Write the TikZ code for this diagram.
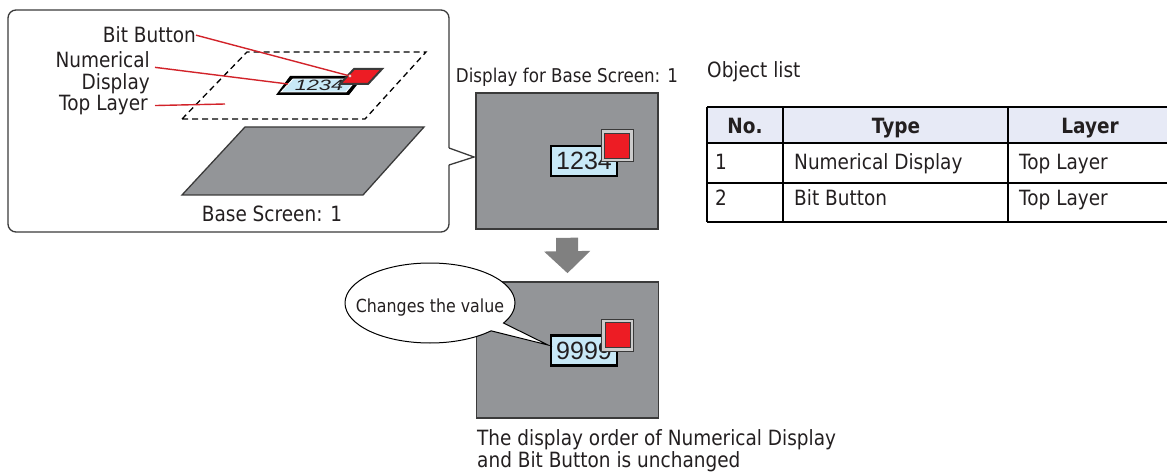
\documentclass[tikz,border=0pt]{standalone}
\usepackage{fontspec}
\setmainfont{DejaVu Sans}[FakeStretch=0.88]
\newfontfamily\digitfont{Liberation Sans}
\usetikzlibrary{arrows.meta,shapes.callouts}

\definecolor{ink}{HTML}{231F20}
\definecolor{screengray}{HTML}{939598}
\definecolor{edgegray}{HTML}{3A3A3A}
\definecolor{panelblue}{HTML}{C8E9F7}
\definecolor{btnred}{HTML}{ED1C24}
\definecolor{leadred}{HTML}{D2232A}
\definecolor{headblue}{HTML}{E7EAF6}
\definecolor{arrowgray}{HTML}{808080}

\tikzset{
    lbl/.style={font=\fontsize{21}{22}\selectfont},
    hdr/.style={font=\fontsize{21}{22}\selectfont\bfseries},
    screenbox/.style={draw=edgegray, line width=1.6pt, fill=screengray,
        minimum width=182pt, minimum height=136pt},
    numpanel/.style={draw=black, line width=2.2pt, fill=panelblue,
        minimum width=66pt, minimum height=30pt,
        font=\digitfont\fontsize{25}{25}\selectfont},
    btnframe/.style={draw=edgegray, line width=1pt, fill=gray!40, minimum size=32pt},
    btncore/.style={draw=edgegray, line width=1pt, fill=btnred, minimum size=25pt},
    leader/.style={leadred, line width=1.4pt},
    tableline/.style={black, line width=2pt},
}

\begin{document}
\begin{tikzpicture}[x=1pt, y=-1pt, every node/.style={text=ink, inner sep=0pt}]
    \useasboundingbox (0,0) rectangle (1167,473);

    % Frame of the layer view, pointing at the screen
    \draw[edgegray, line width=1.3pt, rounded corners=8pt]
        (449,148) -- (449,10) -- (8,10) -- (8,232) -- (449,232) -- (449,165);
    \draw[edgegray, line width=1.3pt] (449,148) -- (474,157) -- (449,165);

    % Top layer (dashed) above the base screen
    \draw[black, line width=1.3pt, dash pattern=on 6pt off 4pt]
        (182,119) -- (365,119) -- (426,52) -- (247,52) -- cycle;
    \draw[edgegray, line width=1.3pt, fill=screengray]
        (182,195) -- (363,195) -- (424,127) -- (245,127) -- cycle;
    \node[lbl, anchor=base] (basecap) at (272,222) {Base Screen: 1};

    % Objects lying on the top layer
    \fill[black] (276,95) -- (349,95) -- (364,76) -- (290,76) -- cycle;
    \draw[white, line width=0.9pt, fill=panelblue]
        (281,92) -- (346,92) -- (357,79) -- (293,79) -- cycle;
    \node[font=\digitfont\itshape\fontsize{15}{15}\selectfont, xscale=1.45] (num0) at (319,85.5) {1234};
    \draw[edgegray, line width=2pt, fill=btnred]
        (340,84) -- (368,84) -- (382,69) -- (354,69) -- cycle;

    % Labels and leaders
    \node[lbl, anchor=base east] (lblbit) at (196,43) {Bit Button};
    \coordinate (btnpin) at (350,76);
    \draw[leader] (lblbit.east) -- (btnpin);
    \filldraw[fill=white, draw=leadred, line width=0.6pt] (btnpin) circle (1.8pt);

    \node[lbl, anchor=north east, align=right] (lblnum) at (150,51) {Numerical\\Display};
    \coordinate (numpin) at (288,84);
    \draw[leader] ([xshift=5pt, yshift=5pt]lblnum.east) -- (numpin);

    \node[lbl, anchor=base east] (lbltop) at (148,111) {Top Layer};
    \coordinate (toppin) at (225,104);
    \draw[leader] ([xshift=7pt]lbltop.east) -- (toppin);

    % Screen before the change
    \node[anchor=base, font=\fontsize{19}{19}\selectfont] (scr1cap) at (567,83) {Display for Base Screen: 1};
    \node[screenbox] (scr1) at (567,161) {};
    \node[numpanel] (num1) at (584,161) {1234};
    \node[btnframe] (btn1frame) at (617,146) {};
    \node[btncore] (btn1) at (617,146) {};

    % Screen after the change
    \node[screenbox] (scr2) at (567.5,350) {};
    \node[numpanel] (num2) at (584,350.5) {9999};
    \node[btnframe] (btn2frame) at (617.5,335) {};
    \node[btncore] (btn2) at (617.5,335) {};

    \draw[arrowgray, line width=22pt, -{Triangle[length=22pt, width=45pt]}]
        ([yshift=-8pt]scr1.south) -- ([yshift=8pt]scr2.north);

    \node[ellipse callout, draw=black, line width=1pt, fill=white,
        minimum width=170pt, minimum height=80pt,
        callout absolute pointer={(548,345)}, callout pointer arc=14,
        font=\fontsize{18}{18}\selectfont] (note) at (430,303)
        {\raisebox{-9pt}[0pt][0pt]{\makebox[0pt]{Changes the value}}};

    \node[lbl, anchor=north west, align=left] (ordernote) at (477,429)
        {The display order of Numerical Display\\and Bit Button is unchanged};

    % Object list
    \node[lbl, anchor=base west] (listcap) at (707,78) {Object list};
    \fill[headblue] (707,107) rectangle (1167,143);
    \foreach \y in {107,143,183,222}
        \draw[tableline] (707,\y) -- (1167,\y);
    \foreach \x in {707,783,1008}
        \draw[tableline] (\x,107) -- (\x,222);

    \node[hdr, anchor=base] (hno) at (745,134) {No.};
    \node[hdr, anchor=base] (htype) at (896,134) {Type};
    \node[hdr, anchor=base] (hlayer) at (1090,134) {Layer};

    \node[lbl, anchor=base west] (r1no) at (715,170) {1};
    \node[lbl, anchor=base west] (r1type) at (794,170) {Numerical Display};
    \node[lbl, anchor=base west] (r1layer) at (1019,170) {Top Layer};
    \node[lbl, anchor=base west] (r2no) at (715,206) {2};
    \node[lbl, anchor=base west] (r2type) at (794,206) {Bit Button};
    \node[lbl, anchor=base west] (r2layer) at (1019,206) {Top Layer};
\end{tikzpicture}
\end{document}
